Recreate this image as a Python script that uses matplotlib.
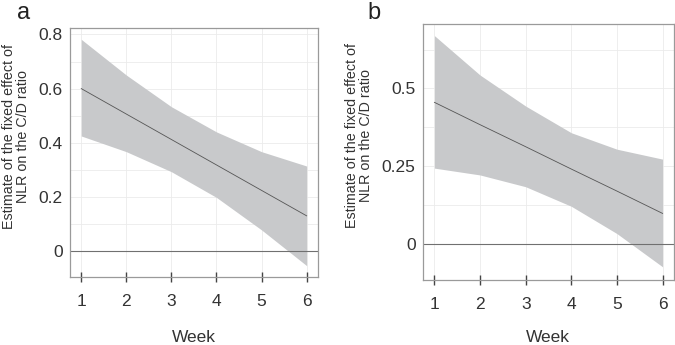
import matplotlib.pyplot as plt
import numpy as np

plt.rcParams['font.family'] = ['Liberation Sans', 'DejaVu Sans']

weeks = [1, 2, 3, 4, 5, 6]

# panel a
est_a = [0.600, 0.506, 0.412, 0.318, 0.224, 0.130]
lo_a = [0.425, 0.367, 0.293, 0.198, 0.078, -0.054]
hi_a = [0.782, 0.650, 0.533, 0.440, 0.367, 0.314]

# panel b
est_b = [0.455, 0.383, 0.312, 0.240, 0.169, 0.097]
lo_b = [0.243, 0.221, 0.183, 0.120, 0.032, -0.075]
hi_b = [0.670, 0.543, 0.443, 0.357, 0.304, 0.272]

yticks_a = [0, 0.2, 0.4, 0.6, 0.8]
yticklabels_a = ['0', '0.2', '0.4', '0.6', '0.8']
ygrid_a = np.arange(-0.1, 0.85, 0.1)
yticks_b = [0, 0.25, 0.5]
yticklabels_b = ['0', '0.25', '0.5']
ygrid_b = np.arange(-0.125, 0.71, 0.125)

ylabel = "Estimate of the fixed effect of\nNLR on the C/D ratio"

fig = plt.figure(figsize=(6.75, 3.45), dpi=100)
ax1 = fig.add_axes([0.103, 0.197, 0.368, 0.722])
ax2 = fig.add_axes([0.626, 0.188, 0.3725, 0.742])


def draw(ax, est, lo, hi, yticks, ylabs, ygrid, ylim, xpad):
    for g in ygrid:
        ax.axhline(g, color='#ebebeb', lw=0.6, zorder=0)
    for w in weeks:
        ax.axvline(w, color='#ebebeb', lw=0.6, zorder=0)
    ax.fill_between(weeks, lo, hi, color='#c8c9cb', lw=0, zorder=1)
    ax.plot(weeks, est, color='#555555', lw=0.6, zorder=2)
    ax.axhline(0, color='#707070', lw=0.8, zorder=2)
    ax.set_xlim(0.74, 6.25)
    ax.set_ylim(*ylim)
    ax.set_xticks(weeks)
    ax.set_xticklabels([str(w) for w in weeks])
    ax.set_yticks(yticks)
    ax.set_yticklabels(ylabs)
    ax.tick_params(axis='x', direction='inout', length=6.5, width=1.0,
                   color='#444444', labelsize=12.5, labelcolor='#333333', pad=9)
    ax.tick_params(axis='y', length=0, labelsize=12.5, labelcolor='#333333', pad=5)
    for s in ax.spines.values():
        s.set_color('#9a9a9a')
        s.set_linewidth(0.9)
    ax.set_xlabel('Week', fontsize=12.5, color='#333333', labelpad=xpad)
    ax.set_ylabel(ylabel, fontsize=10.3, color='#333333', labelpad=6,
                  y=0.566, linespacing=1.05)


draw(ax1, est_a, lo_a, hi_a, yticks_a, yticklabels_a, ygrid_a, (-0.096, 0.824), 15)
draw(ax2, est_b, lo_b, hi_b, yticks_b, yticklabels_b, ygrid_b, (-0.118, 0.707), 12.5)

fig.text(0.025, 0.962, 'a', fontsize=17, color='#222222', va='center')
fig.text(0.545, 0.962, 'b', fontsize=17, color='#222222', va='center')

fig.savefig('out.png', dpi=100, facecolor='white')
